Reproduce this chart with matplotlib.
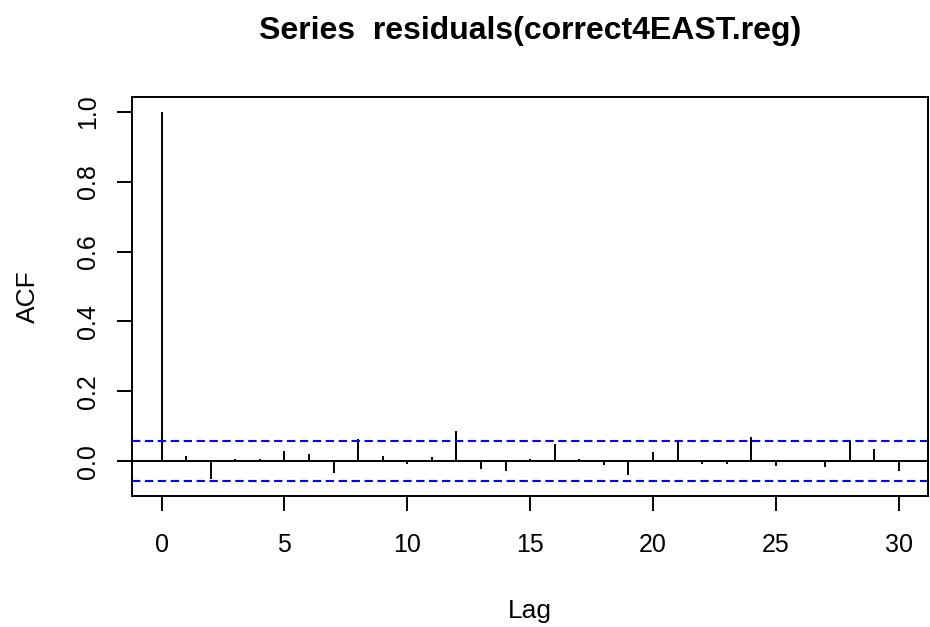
import matplotlib

matplotlib.use("Agg")

import matplotlib.pyplot as plt
import numpy as np

plt.rcParams["font.family"] = ["Liberation Sans", "DejaVu Sans"]

# ACF values, lags 0..30
lags = np.arange(0, 31)
acf_values = [
    1.000, 0.016, -0.050, 0.006, 0.006, 0.030, 0.020, -0.035, 0.062, 0.016,
    -0.007, 0.011, 0.085, -0.022, -0.028, 0.006, 0.049, 0.006, -0.012, -0.040,
    0.025, 0.057, -0.008, -0.008, 0.068, -0.013, 0.001, -0.018, 0.057, 0.034,
    -0.027,
]
conf_bound = 0.0566
title = "Series  residuals(correct4EAST.reg)"
x_ticks = [0, 5, 10, 15, 20, 25, 30]
y_ticks = [0.0, 0.2, 0.4, 0.6, 0.8, 1.0]

fig = plt.figure(figsize=(9.3, 6.27), dpi=100)
ax = fig.add_axes([0.142, 0.209, 0.856, 0.636])

ax.vlines(lags, 0, acf_values, color="black", linewidth=1.4)
ax.axhline(0, color="black", linewidth=1.4)
for b in (conf_bound, -conf_bound):
    ax.axhline(b, color="blue", linewidth=1.5, linestyle=(0, (4, 2.2)))

ax.set_xlim(-1.2, 31.2)
ax.set_ylim(-0.0998, 1.042)
ax.set_xticks(x_ticks)
ax.set_yticks(y_ticks)
ax.set_yticklabels([f"{v:.1f}" for v in y_ticks], rotation=90, va="center")

for s in ax.spines.values():
    s.set_linewidth(1.4)
ax.tick_params(axis="both", length=11, width=1.4, labelsize=18)
ax.tick_params(axis="x", pad=16)
ax.tick_params(axis="y", pad=12)

ax.set_xlabel("Lag", fontsize=19, labelpad=30)
ax.set_ylabel("ACF", fontsize=19, labelpad=26)
fig.text(0.57, 0.951, title, ha="center", va="center",
         fontsize=23, fontweight="bold")

fig.savefig("out.png", dpi=100)
